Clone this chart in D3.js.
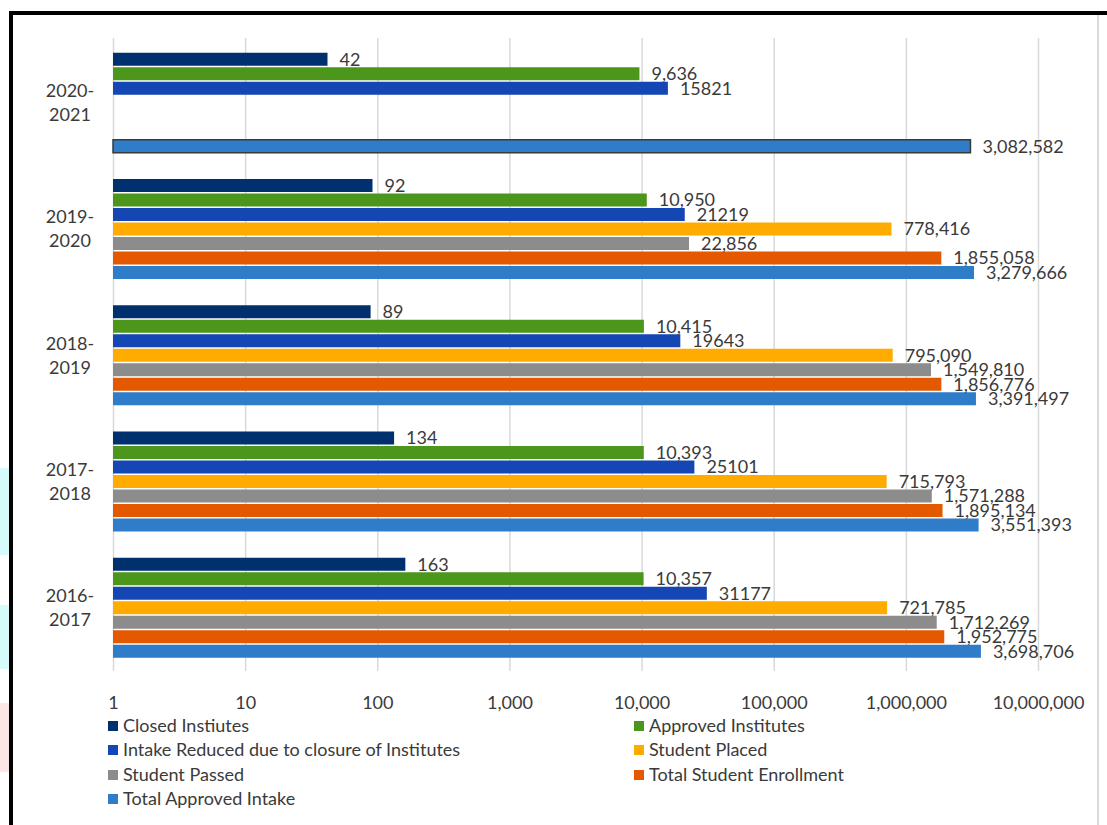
<!DOCTYPE html>
<html>
<head>
<meta charset="utf-8">
<script src="https://cdn.jsdelivr.net/npm/d3@7"></script>
<style>
  body { margin: 0; background: #fff; }
  svg text { font-family: Lato, "Open Sans", sans-serif; fill: #3a3a3a; }
</style>
</head>
<body>
<svg id="chart" width="1107" height="825"></svg>
<script>
// categories, top to bottom
const years = ["2020-2021", "2019-2020", "2018-2019", "2017-2018", "2016-2017"];

const seriesNames = [
  "Closed Instiutes",
  "Approved Institutes",
  "Intake Reduced due to closure of Institutes",
  "Student Placed",
  "Student Passed",
  "Total Student Enrollment",
  "Total Approved Intake"
];
const seriesColors = ["#00306e", "#4c961c", "#1447b3", "#ffab00", "#8c8c8c", "#e45800", "#2f7cc9"];

// values per year, same order as years
const closedInstitutes   = [42, 92, 89, 134, 163];
const approvedInstitutes = [9636, 10950, 10415, 10393, 10357];
const intakeReduced      = [15821, 21219, 19643, 25101, 31177];
const studentPlaced      = [null, 778416, 795090, 715793, 721785];
const studentPassed      = [null, 22856, 1549810, 1571288, 1712269];
const totalEnrollment    = [null, 1855058, 1856776, 1895134, 1952775];
const totalIntake        = [3082582, 3279666, 3391497, 3551393, 3698706];

const seriesValues = [closedInstitutes, approvedInstitutes, intakeReduced,
  studentPlaced, studentPassed, totalEnrollment, totalIntake];

const tickValues = [1, 10, 100, 1000, 10000, 100000, 1000000, 10000000];

const svg = d3.select("#chart");
const fontSize = "18px";

// page frame bits from the screenshot
svg.append("rect").attr("x", 0).attr("y", 468).attr("width", 9).attr("height", 87).attr("fill", "#d6fbfb");
svg.append("rect").attr("x", 0).attr("y", 605).attr("width", 9).attr("height", 64).attr("fill", "#d6fbfb");
svg.append("rect").attr("x", 0).attr("y", 703).attr("width", 9).attr("height", 69).attr("fill", "#fde6e6");
svg.append("rect").attr("x", 9).attr("y", 11).attr("width", 1098).attr("height", 4).attr("fill", "#000");
svg.append("rect").attr("x", 9).attr("y", 11).attr("width", 4).attr("height", 814).attr("fill", "#000");
svg.append("line").attr("x1", 1098).attr("x2", 1098).attr("y1", 15).attr("y2", 825)
  .attr("stroke", "#d9d9d9").attr("stroke-width", 2);

// scales
const x = d3.scaleLog().domain([1, 1e7]).range([113, 1038]);
const y0 = d3.scaleBand().domain(years).range([52, 658.5]).paddingInner(0.196);
const y1 = d3.scaleBand().domain(d3.range(seriesNames.length)).range([0, y0.bandwidth()]);

// gridlines + tick labels
const axis = d3.axisBottom(x)
  .tickValues(tickValues)
  .tickFormat(d3.format(","))
  .tickSize(-633)
  .tickPadding(25);

const gAxis = svg.append("g").attr("transform", "translate(0,671)").call(axis);
gAxis.select(".domain").remove();
gAxis.selectAll(".tick line").attr("stroke", "#d9d9d9").attr("stroke-width", 1.5);
gAxis.selectAll(".tick text").style("font-size", fontSize).attr("fill", "#3a3a3a");

// bars
const rows = [];
years.forEach((yr, i) => {
  seriesValues.forEach((vals, s) => {
    if (vals[i] != null) rows.push({ year: yr, s: s, v: vals[i] });
  });
});

const gBars = svg.append("g");
gBars.selectAll("rect")
  .data(rows)
  .enter()
  .append("rect")
  .attr("x", x(1))
  .attr("y", d => y0(d.year) + y1(d.s) + 0.75)
  .attr("width", d => x(d.v) - x(1))
  .attr("height", y1.bandwidth() - 1.5)
  .attr("fill", d => seriesColors[d.s])
  .attr("stroke", d => (d.year === "2020-2021" && d.s === 6) ? "#3a3a3a" : "none")
  .attr("stroke-width", 1.5);

const fmtComma = d3.format(",");
const fmtPlain = d3.format("d");

gBars.selectAll("text")
  .data(rows)
  .enter()
  .append("text")
  .attr("x", d => x(d.v) + 12)
  .attr("y", d => y0(d.year) + y1(d.s) + y1.bandwidth() / 2)
  .attr("dy", "0.35em")
  .style("font-size", fontSize)
  .text(d => d.s === 2 ? fmtPlain(d.v) : fmtComma(d.v));

// category labels
const gCat = svg.append("g");
years.forEach(yr => {
  const [a, b] = yr.split("-");
  const cy = y0(yr) + y0.bandwidth() / 2;
  const t = gCat.append("text")
    .attr("x", 70)
    .attr("text-anchor", "middle")
    .style("font-size", fontSize);
  t.append("tspan").attr("x", 70).attr("y", cy - 12).attr("dy", "0.35em").text(a + "-");
  t.append("tspan").attr("x", 70).attr("y", cy + 12).attr("dy", "0.35em").text(b);
});

// legend
const legendCols = [108, 634];
const legendRows = [726, 750, 775, 799];
const gLeg = svg.append("g");
seriesNames.forEach((name, i) => {
  const lx = legendCols[i % 2];
  const ly = legendRows[Math.floor(i / 2)];
  gLeg.append("rect").attr("x", lx).attr("y", ly - 5).attr("width", 10).attr("height", 10)
    .attr("fill", seriesColors[i]);
  gLeg.append("text").attr("x", lx + 15).attr("y", ly).attr("dy", "0.35em")
    .style("font-size", fontSize).text(name);
});
</script>
</body>
</html>
